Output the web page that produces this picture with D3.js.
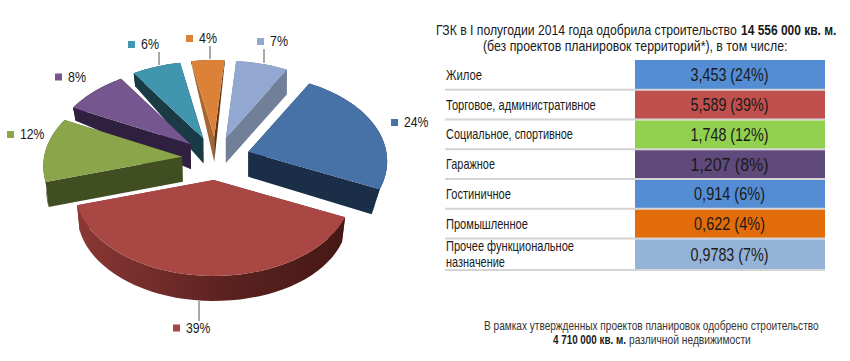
<!DOCTYPE html>
<html>
<head>
<meta charset="utf-8">
<script src="https://cdn.jsdelivr.net/npm/d3@7"></script>
<style>
  html, body { margin: 0; padding: 0; background: #fff; }
  svg { display: block; }
  text { font-family: "Liberation Sans", sans-serif; fill: #1a1a1a; }
</style>
</head>
<body>
<svg id="chart" width="850" height="361"></svg>
<script>
// data
const categories = ['Жилое', 'Торговое, административное', 'Социальное, спортивное', 'Гаражное', 'Гостиничное', 'Промышленное', 'Прочее функциональное'];
const categoryExtra = 'назначение';
const values = [3.453, 5.589, 1.748, 1.207, 0.914, 0.622, 0.9783];
const valueLabels = ['3,453', '5,589', '1,748', '1,207', '0,914', '0,622', '0,9783'];
const percents = [24, 39, 12, 8, 6, 4, 7];

// colours
const sliceColors = ['#4672a8', '#a94744', '#8ba64a', '#75568f', '#3f96ae', '#dc8238', '#92a8d0'];
const wallColors = ['#1a2e48', '#6e2a28', '#404e22', '#2f2040', '#1a3a46', '#5e3516', '#717f98'];
const rowColors = ['#548dd4', '#c0504d', '#92d050', '#604a7b', '#548dd4', '#e36c0a', '#95b3d7'];

const svg = d3.select('#chart');
const defs = svg.append('defs');

// pie geometry, fitted to the picture
const cx = 216, cy = 158.5;
const explodeX = 34, explodeY = 21.5;
const perspective = 0.11;
const wallDepth = 25;
const xScale = d3.scaleLinear().domain([-1, 1]).range([-138, 138]);
const yScale = d3.scaleLinear().domain([-1, 1]).range([-85.5, 85.5]);

const deg = Math.PI / 180;
const pie = d3.pie().sort(null).value(d => d).startAngle(29 * deg).endAngle(389 * deg);
const arcs = pie(values);

const line = d3.line().x(d => d[0]).y(d => d[1]);

function project(tip, angle) {
  const u = Math.sin(angle), v = -Math.cos(angle);
  const s = 1 / (1 - perspective * v);
  return [tip[0] + xScale(u) * s, tip[1] + yScale(v) * s];
}
// walls get shallower on the far side
function depthAt(angle) {
  const u = Math.sin(angle), v = -Math.cos(angle);
  if (u >= 0) return v < 0 ? Math.min(wallDepth, Math.max(5, u * 60)) : wallDepth;
  if (u > -0.3 && v < 0) return 3;
  return wallDepth - 12 * Math.min(1, Math.max(0, -v / 0.4));
}
// the lower edge leans in towards the middle
function down(p, d) {
  const dx = p[0] - cx;
  const lean = dx > 0 ? -9 * Math.pow(dx / 168, 4) : 3 * (-dx / 170);
  return [p[0] + lean, p[1] + d];
}

const slices = arcs.map((a, i) => {
  const mid = (a.startAngle + a.endAngle) / 2;
  const tip = [cx + explodeX * Math.sin(mid), cy - explodeY * Math.cos(mid)];
  const steps = d3.range(0, 41).map(k => a.startAngle + (a.endAngle - a.startAngle) * k / 40);
  const rim = steps.map(t => project(tip, t));
  return { i, tip, steps, rim, a };
});

// far slices first
const ordered = slices.slice().sort((p, q) => p.tip[1] - q.tip[1]);
const gPie = svg.append('g');

// red slice front wall gradient
const grad = defs.append('linearGradient').attr('id', 'redWall');
grad.append('stop').attr('offset', '0%').attr('stop-color', '#8a3835');
grad.append('stop').attr('offset', '55%').attr('stop-color', '#5c2220');
grad.append('stop').attr('offset', '100%').attr('stop-color', '#451815');

ordered.forEach(s => {
  const g = gPie.append('g');
  const first = s.rim[0], last = s.rim[s.rim.length - 1];
  const d0 = depthAt(s.a.startAngle), d1 = depthAt(s.a.endAngle);
  // radial walls
  g.append('path')
    .attr('d', line([s.tip, first, down(first, d0), down(s.tip, wallDepth)]) + 'Z')
    .attr('fill', s.i === 5 ? '#a5662f' : wallColors[s.i]);
  g.append('path')
    .attr('d', line([s.tip, last, down(last, d1), down(s.tip, wallDepth)]) + 'Z')
    .attr('fill', wallColors[s.i]);
  // outer wall
  const lower = s.rim.map((p, k) => down(p, depthAt(s.steps[k]))).reverse();
  g.append('path')
    .attr('d', line(s.rim.concat(lower)) + 'Z')
    .attr('fill', s.i === 1 ? 'url(#redWall)' : wallColors[s.i]);
  // top surface
  g.append('path')
    .attr('d', line([s.tip].concat(s.rim)) + 'Z')
    .attr('fill', sliceColors[s.i]);
});

// the narrow font of the original is not installed, so text is squeezed to its measured width
function label(parent, x, y, str, width, size, opts) {
  opts = opts || {};
  const t = parent.append('text')
    .attr('font-size', size)
    .attr('font-weight', opts.bold ? 'bold' : null)
    .attr('text-anchor', opts.anchor || null)
    .style('fill', opts.fill || null)
    .text(str);
  const natural = t.node().getComputedTextLength();
  t.attr('transform', 'translate(' + x + ',' + y + ') scale(' + (width / natural) + ',1)');
  return t;
}

// data labels: square x, text baseline
const labelPos = [[391, 127], [173, 332.5], [7, 139], [55, 81.5], [128, 49], [186, 43], [257, 46]];
const gLabels = svg.append('g');
percents.forEach((p, i) => {
  const [lx, ly] = labelPos[i];
  gLabels.append('rect').attr('x', lx).attr('y', ly - 8).attr('width', 7).attr('height', 7).attr('fill', sliceColors[i]);
  label(gLabels, lx + 13, ly, p + '%', p > 9 ? 24.5 : 18, 15);
});
// leader lines
[[159, 52, 65], [210, 46, 59], [264, 49, 63], [199, 301, 321]].forEach(l => {
  svg.append('line').attr('x1', l[0]).attr('x2', l[0]).attr('y1', l[1]).attr('y2', l[2]).attr('stroke', '#555').attr('stroke-width', 1);
});

// table
const rowY = d3.scaleLinear().domain([0, 6, 7]).range([60, 238.5, 270]);
const labelX = 446, splitX = 635, rightX = 825;
const labelWidths = [36, 150, 127, 49, 65, 82, 128];
const gTable = svg.append('g');
categories.forEach((c, i) => {
  const y0 = rowY(i), y1 = rowY(i + 1);
  gTable.append('rect').attr('x', splitX).attr('y', y0 + (i ? 1 : 0)).attr('width', rightX - splitX).attr('height', y1 - y0 - (i ? 1 : 0)).attr('fill', rowColors[i]);
  gTable.append('rect').attr('x', labelX - 1).attr('y', y1 - 1).attr('width', rightX - labelX + 1).attr('height', 2).attr('fill', '#d4d4d4');
  const my = (y0 + y1) / 2;
  if (i === 6) {
    label(gTable, labelX, my - 3, c, labelWidths[i], 14);
    label(gTable, labelX, my + 12.5, categoryExtra, 59, 14);
  } else {
    label(gTable, labelX, my + 5, c, labelWidths[i], 14);
  }
  const str = valueLabels[i] + ' (' + percents[i] + '%)';
  label(gTable, (splitX + rightX) / 2 - 0.5, my + 6.5, str, i === 4 || i === 5 ? 71 : 78, 17.5, { anchor: 'middle' });
});

// title
label(svg, 436, 35, 'ГЗК в I полугодии 2014 года одобрила строительство', 301, 15);
label(svg, 741, 35, '14 556 000 кв. м.', 95.5, 15, { bold: true });
label(svg, 483, 51, '(без проектов планировок территорий*), в том числе:', 304.5, 15);

// footnote
label(svg, 484, 330, 'В рамках утвержденных проектов планировок одобрено строительство', 335, 13, { fill: '#333' });
label(svg, 553, 344, '4 710 000 кв. м.', 73, 13, { bold: true });
label(svg, 629, 344, 'различной недвижимости', 122, 13, { fill: '#333' });
</script>
</body>
</html>
